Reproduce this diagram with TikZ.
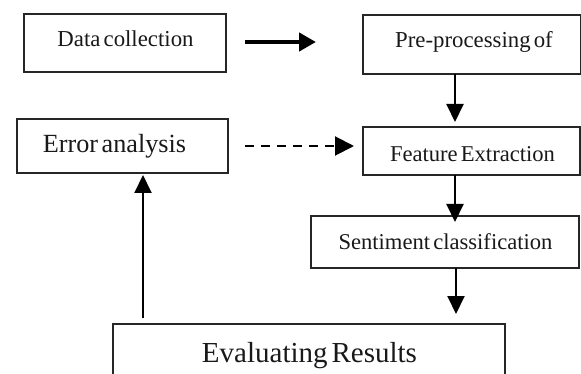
\documentclass[tikz,border=0pt]{standalone}
\usepackage{fontspec}
\setmainfont[WordSpace=0.55]{Liberation Serif}
\usetikzlibrary{arrows.meta,calc}
\tikzset{
  box/.style={draw=black!85, line width=2pt, inner sep=0pt},
  lbl/.style={anchor=base, inner sep=0pt, text=black!90},
  flow/.style={line width=2pt, -{Triangle[length=18pt,width=17pt]}},
  bigflow/.style={line width=4.5pt, -{Triangle[length=17pt,width=18pt]}},
  dflow/.style={line width=2pt, dash pattern=on 9pt off 7pt, -{Triangle[length=19pt,width=19pt]}}
}
\begin{document}
\begin{tikzpicture}[x=1pt,y=-1pt]
\useasboundingbox (0,0) rectangle (581,374);
\clip (0,0) rectangle (581,374);
\fill[white] (0,0) rectangle (581,374);
% boxes
\node[box, minimum width=202pt, minimum height=58pt] (dc) at (125,43) {};
\node[box, minimum width=218pt, minimum height=59pt] (pre) at (472,44.5) {};
\node[box, minimum width=211pt, minimum height=54pt] (err) at (122.5,146) {};
\node[box, minimum width=217pt, minimum height=48pt] (fe) at (471.5,151) {};
\node[box, minimum width=268pt, minimum height=52pt] (sc) at (445,242) {};
\node[box, minimum width=392pt, minimum height=70pt] (ev) at (309,359) {};
% texts
\node[lbl, font=\fontsize{22.8}{24}\selectfont] (tdc) at (125.5,47) {Data collection};
\node[lbl, font=\fontsize{22.8}{24}\selectfont] (tpre) at (474,48) {Pre-processing of};
\node[lbl, font=\fontsize{26.2}{28}\selectfont] (terr) at (114.5,153) {Error analysis};
\node[lbl, font=\fontsize{22.6}{24}\selectfont] (tfe) at (472.5,161.5) {Feature Extraction};
\node[lbl, font=\fontsize{22.6}{24}\selectfont] (tsc) at (445.5,249) {Sentiment classification};
\node[lbl, font=\fontsize{29}{30}\selectfont] (tev) at (309.5,362) {Evaluating Results};
% connector end points
\coordinate (a1) at (245,42);
\coordinate (a2) at (316,42);
\coordinate (b1) at (455,74);
\coordinate (b2) at (455,122);
\coordinate (c1) at (455,175);
\coordinate (c2) at (455,222);
\coordinate (d1) at (456,268);
\coordinate (d2) at (456,314);
\coordinate (e1) at (143,318);
\coordinate (e2) at (143,175);
\coordinate (f1) at (245,146);
\coordinate (f2) at (354,146);
% connectors
\draw[bigflow] (a1) -- (a2);
\draw[flow] (b1) -- (b2);
\draw[flow] (c1) -- (c2);
\draw[flow] (d1) -- (d2);
\draw[flow] (e1) -- (e2);
\draw[dflow] (f1) -- (f2);
\end{tikzpicture}
\end{document}
